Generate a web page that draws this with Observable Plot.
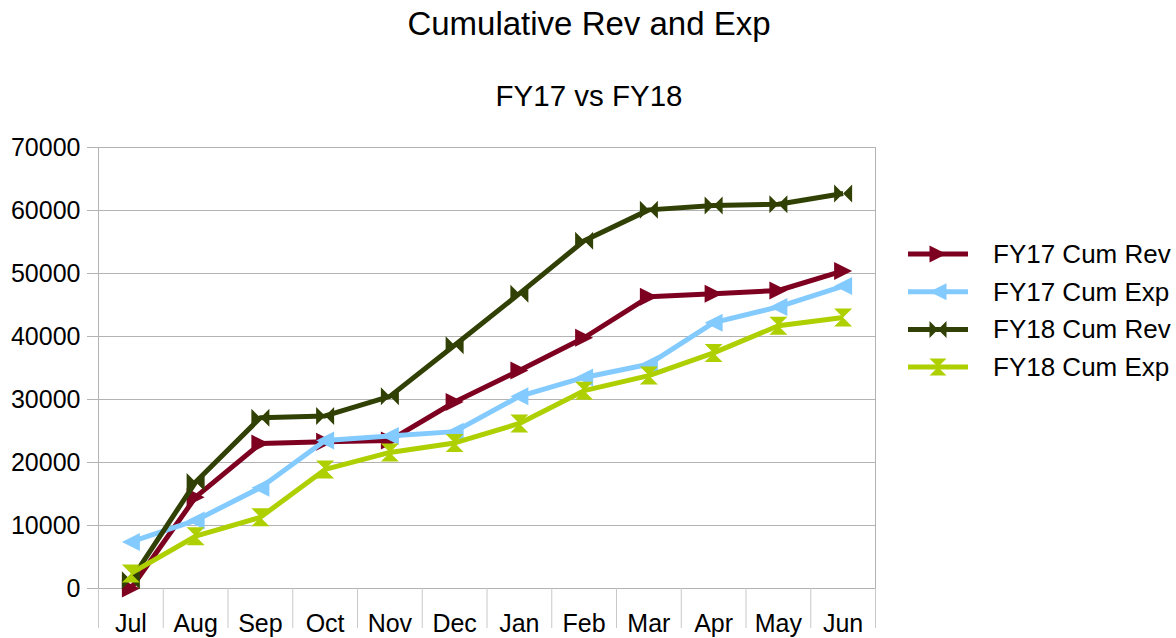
<!DOCTYPE html>
<html>
<head>
<meta charset="utf-8">
<script src="https://cdn.jsdelivr.net/npm/d3@7"></script>
<script src="https://cdn.jsdelivr.net/npm/@observablehq/plot@0.6"></script>
<style>
  html, body { margin: 0; padding: 0; background: #fff; }
  #wrap { position: relative; width: 1176px; height: 638px; overflow: hidden; font-family: "Liberation Sans", Arial, sans-serif; }
  #wrap > svg { position: absolute; left: 0; top: 0; }
</style>
</head>
<body>
<div id="wrap"></div>
<script>
const months = ["Jul","Aug","Sep","Oct","Nov","Dec","Jan","Feb","Mar","Apr","May","Jun"];
const fy17CumRev = [0, 14500, 23000, 23300, 23500, 29600, 34600, 39800, 46300, 46800, 47300, 50400];
const fy17CumExp = [7400, 10800, 16000, 23500, 24200, 24900, 30500, 33500, 35600, 42200, 44700, 48000];
const fy18CumRev = [1300, 16900, 27100, 27400, 30500, 38600, 46800, 55200, 60100, 60800, 61000, 62700];
const fy18CumExp = [2400, 8300, 11300, 18900, 21600, 23100, 26200, 31400, 33800, 37400, 41700, 43000];
const seriesNames = ["FY17 Cum Rev", "FY17 Cum Exp", "FY18 Cum Rev", "FY18 Cum Exp"];
const yTicks = [0, 10000, 20000, 30000, 40000, 50000, 60000, 70000];
const titleText = "Cumulative Rev and Exp";
const subtitleText = "FY17 vs FY18";

const seriesValues = [fy17CumRev, fy17CumExp, fy18CumRev, fy18CumExp];
const colors = ["#7e0021", "#83caff", "#314004", "#aecf00"];

// custom marker shapes
const triRight = { draw(c, size) { const s = Math.sqrt(size / Math.PI); c.moveTo(-s, -s); c.lineTo(s, 0); c.lineTo(-s, s); c.closePath(); } };
const triLeft = { draw(c, size) { const s = Math.sqrt(size / Math.PI); c.moveTo(s, -s); c.lineTo(-s, 0); c.lineTo(s, s); c.closePath(); } };
const bowtie = { draw(c, size) { const s = Math.sqrt(size / Math.PI);
  c.moveTo(-s, -s); c.lineTo(0, 0); c.lineTo(-s, s); c.closePath();
  c.moveTo(s, -s); c.lineTo(0, 0); c.lineTo(s, s); c.closePath(); } };
const hourglass = { draw(c, size) { const s = Math.sqrt(size / Math.PI);
  c.moveTo(-s, -s); c.lineTo(s, -s); c.lineTo(0, 0); c.closePath();
  c.moveTo(-s, s); c.lineTo(s, s); c.lineTo(0, 0); c.closePath(); } };
const symbols = [triRight, triLeft, bowtie, hourglass];

const series = seriesNames.map((name, k) => ({
  name, color: colors[k], symbol: symbols[k],
  data: seriesValues[k].map((v, i) => ({ i, month: months[i], value: v }))
}));

const idx = d3.range(months.length);
const bounds = d3.range(months.length + 1).map(i => i - 0.5);

const W = 1176, H = 638;
const plot = Plot.plot({
  width: W, height: H,
  marginLeft: 98, marginRight: 301, marginTop: 147, marginBottom: 50,
  style: { fontFamily: "'Liberation Sans', Arial, sans-serif", fontSize: "25px", color: "#000", background: "transparent", overflow: "visible" },
  x: { type: "linear", domain: [-0.5, months.length - 0.5] },
  y: { domain: [0, 70000] },
  marks: [
    Plot.gridY(yTicks, { stroke: "#b3b3b3", strokeOpacity: 1, strokeWidth: 1 }),
    Plot.frame({ stroke: "#b3b3b3", strokeWidth: 1 }),
    Plot.axisY(yTicks, { tickSize: 11, tickPadding: 7, stroke: "#b3b3b3", fill: "#000", tickFormat: d3.format("d"), label: null }),
    Plot.axisX(bounds, { tickSize: 40, stroke: "#c8c8c8", tickFormat: () => "", label: null }),
    Plot.axisX(idx, { tickSize: 0, tickPadding: 26, fill: "#000", tickFormat: i => months[i], label: null }),
    ...series.flatMap(s => [
      Plot.line(s.data, { x: "i", y: "value", stroke: s.color, strokeWidth: 5, strokeLinejoin: "round", strokeLinecap: "butt" }),
      Plot.dot(s.data, { x: "i", y: "value", symbol: () => s.symbol, r: 9, fill: s.color, stroke: "none" })
    ])
  ]
});
document.getElementById("wrap").appendChild(plot);

// Titles and legend overlay
const over = d3.select("#wrap").append("svg").attr("width", W).attr("height", H)
  .style("font-family", "'Liberation Sans', Arial, sans-serif").style("pointer-events", "none");
over.append("text").attr("x", 589).attr("y", 35).attr("text-anchor", "middle").attr("font-size", 33).attr("fill", "#000").text(titleText);
over.append("text").attr("x", 589).attr("y", 106).attr("text-anchor", "middle").attr("font-size", 29.5).attr("fill", "#000").text(subtitleText);

const lg = over.append("g");
series.forEach((s, k) => {
  const cy = 254 + k * 37.7;
  const g = lg.append("g").attr("transform", `translate(0,${cy})`);
  g.append("line").attr("x1", 908).attr("x2", 968).attr("y1", 0).attr("y2", 0).attr("stroke", s.color).attr("stroke-width", 5);
  g.append("path").attr("transform", "translate(938,0)").attr("d", d3.symbol(s.symbol, 8.5 * 8.5 * Math.PI)()).attr("fill", s.color);
  g.append("text").attr("x", 993).attr("y", 9).attr("font-size", 26).attr("fill", "#000").text(s.name);
});
</script>
</body>
</html>
